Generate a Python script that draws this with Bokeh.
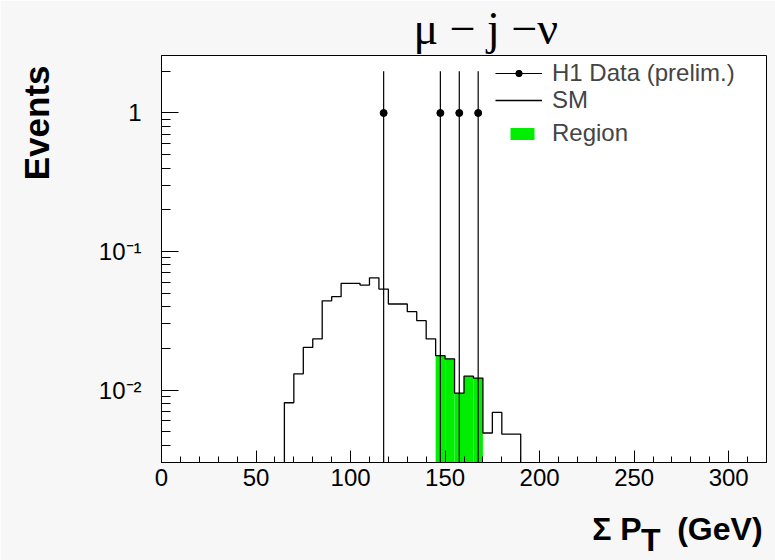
from bokeh.plotting import figure
from bokeh.models import (Legend, LegendItem, LogTicker, SingleIntervalTicker,
                          CustomJSTickFormatter, Range1d, Title)
from bokeh.embed import file_html
from bokeh.resources import INLINE

NB = "\u00a0"

# ---------------- data ----------------
title_text = "μ − j −ν"
x_label_main = "Σ P" + NB * 4 + "(GeV)"
x_label_sub = "T"
y_label = "Events"

bin_low = 65.0
bin_width = 5.0
sm_values = [0.0081, 0.0131, 0.0203, 0.0234, 0.0441, 0.0472, 0.0589, 0.0589,
             0.0573, 0.0646, 0.0536, 0.0418, 0.0418, 0.0368, 0.0317, 0.0234,
             0.0177, 0.0168, 0.0095, 0.0126, 0.0122, 0.0049, 0.0069, 0.0048,
             0.0048]
region_lo = 145.0
region_hi = 170.0

data_x = [117.5, 147.5, 157.5, 167.5]
data_y = [1.0, 1.0, 1.0, 1.0]
data_err = [1.0, 1.0, 1.0, 1.0]

legend_labels = ["H1 Data (prelim.)", "SM", "Region"]

x_range = (0.0, 320.0)
y_range = (0.003, 2.6)

# ---------------- figure ----------------
p = figure(width=775, height=560, y_axis_type="log", output_backend="svg",
           toolbar_location=None,
           x_range=Range1d(*x_range), y_range=Range1d(*y_range),
           min_border_left=161, min_border_right=9, min_border_top=55,
           min_border_bottom=98)
p.background_fill_color = "white"
p.border_fill_color = "#f7f7f7"
p.outline_line_color = "black"
p.outline_line_width = 1
p.grid.visible = False

edges = [bin_low + bin_width * i for i in range(len(sm_values) + 1)]
floor = y_range[0]

# Region (green)
reg_left, reg_right, reg_top = [], [], []
for i, v in enumerate(sm_values):
    if edges[i] >= region_lo and edges[i + 1] <= region_hi:
        reg_left.append(edges[i]); reg_right.append(edges[i + 1]); reg_top.append(v)
r_region = p.quad(left=reg_left, right=reg_right, top=reg_top,
                  bottom=[floor] * len(reg_top), fill_color="#00ee00",
                  line_color=None)

# SM step histogram
sx, sy = [edges[0]], [floor]
for i, v in enumerate(sm_values):
    sx += [edges[i], edges[i + 1]]
    sy += [v, v]
sx.append(edges[-1]); sy.append(floor)
r_sm = p.line(sx, sy, line_color="black", line_width=1.3)

# Data with error bars
y0 = [max(y - e, floor) for y, e in zip(data_y, data_err)]
y1 = [y + e for y, e in zip(data_y, data_err)]
r_err = p.segment(x0=data_x, y0=y0, x1=data_x, y1=y1, line_color="black",
                  line_width=1.2)
r_pts = p.scatter(data_x, data_y, size=7, marker="circle", color="black")

# ---------------- axes ----------------
xa, ya = p.xaxis[0], p.yaxis[0]
xa.ticker = SingleIntervalTicker(interval=50, num_minor_ticks=5)
ya.ticker = LogTicker(mantissas=[1], num_minor_ticks=10)
ya.formatter = CustomJSTickFormatter(code="""
const e = Math.round(Math.log10(tick));
if (e == 0) { return "1"; }
const sup = {"-": "\u207b", "0": "\u2070", "1": "\u00b9", "2": "\u00b2", "3": "\u00b3",
             "4": "\u2074", "5": "\u2075", "6": "\u2076", "7": "\u2077", "8": "\u2078", "9": "\u2079"};
return "10" + String(e).split("").map(c => sup[c]).join("");
""")
for ax in (xa, ya):
    ax.axis_line_color = "black"
    ax.major_tick_line_color = "black"
    ax.minor_tick_line_color = "black"
    ax.major_tick_out = 0
    ax.minor_tick_out = 0
    ax.major_label_text_font = "Liberation Sans"
    ax.major_label_text_font_size = "24px"
    ax.major_label_text_color = "black"
    ax.axis_label_text_font = "Liberation Sans"
    ax.axis_label_text_font_style = "bold"
    ax.axis_label_text_color = "black"

xa.major_tick_in = 12
xa.minor_tick_in = 6
ya.major_tick_in = 17
ya.minor_tick_in = 9
xa.major_label_standoff = 6
ya.major_label_standoff = 20

# x label: main line plus lowered subscript line (lines are centred on the axis)
xa.axis_label = NB * 48 + x_label_main + "\n" + NB * 42 + x_label_sub
xa.axis_label_text_font_size = "32px"
xa.axis_label_text_line_height = 0.31
xa.axis_label_standoff = 22

ya.axis_label = NB * 28 + y_label
ya.axis_label_text_font_size = "35px"
ya.axis_label_standoff = 40

# ---------------- title ----------------
p.add_layout(Title(text=title_text, text_font="Liberation Serif", text_font_size="46px",
                   text_font_style="normal", text_color="black", align="left",
                   offset=252, standoff=0, vertical_align="top"), "above")

# ---------------- legends ----------------
def make_legend(item, loc, gw, gh, standoff):
    lg = Legend(items=[item], location=loc, glyph_width=gw, glyph_height=gh,
                label_standoff=standoff, padding=0, margin=0, spacing=0,
                border_line_color=None, background_fill_alpha=0,
                label_text_font="Liberation Sans", label_text_font_size="24px",
                label_height=16)
    p.add_layout(lg)

make_legend(LegendItem(label=legend_labels[0], renderers=[r_err, r_pts]), (334, 375), 47, 16, 10)
make_legend(LegendItem(label=legend_labels[1], renderers=[r_sm]), (334, 348), 47, 16, 10)
make_legend(LegendItem(label=legend_labels[2], renderers=[r_region]), (346, 315), 30, 15, 15)

open("out.html", "w").write(file_html(p, INLINE))
